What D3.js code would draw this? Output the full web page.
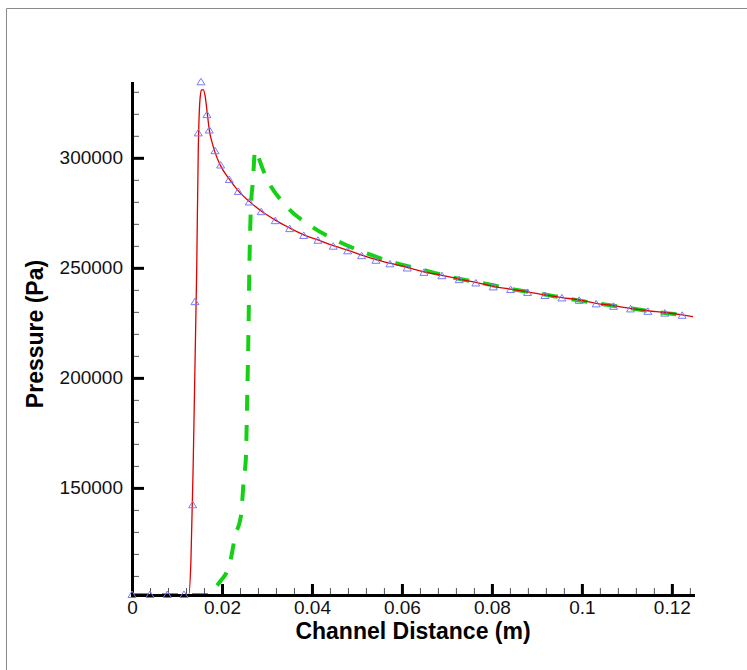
<!DOCTYPE html>
<html>
<head>
<meta charset="utf-8">
<script src="https://cdn.jsdelivr.net/npm/d3@7"></script>
<style>
  html, body { margin: 0; padding: 0; background: #fff; }
  svg { display: block; font-family: "Liberation Sans", Arial, Helvetica, sans-serif; }
</style>
</head>
<body>
<svg id="chart" width="747" height="670"></svg>
<script>
// ---------------- data ----------------
const xTicks = [0, 0.02, 0.04, 0.06, 0.08, 0.1, 0.12];
const xTickLabels = ["0", "0.02", "0.04", "0.06", "0.08", "0.1", "0.12"];
const yTicks = [150000, 200000, 250000, 300000];
const yTickLabels = ["150000", "200000", "250000", "300000"];
const xTitle = "Channel Distance (m)";
const yTitle = "Pressure (Pa)";

// Red solid line
const redX = [0, 0.0126, 0.0131, 0.01362, 0.01438, 0.01473, 0.0151, 0.01544, 0.01584, 0.01622, 0.01678, 0.01718,
  0.01778, 0.01844, 0.01956, 0.02162, 0.02362, 0.02607, 0.02873, 0.03184, 0.03504, 0.03816, 0.04133, 0.04473,
  0.04793, 0.05104, 0.05422, 0.05733, 0.06118, 0.06489, 0.06889, 0.07273, 0.07644, 0.08029, 0.08416, 0.08793,
  0.09178, 0.09556, 0.0994, 0.10318, 0.10704, 0.11082, 0.11467, 0.11844, 0.12229, 0.1247];
const redP = [101325, 101325, 117000, 162600, 249000, 303500, 326200, 330800, 331000, 328500, 319400, 312600,
  307100, 302600, 296900, 290300, 285000, 280200, 275800, 271700, 268100, 265000, 262700, 260100,
  258000, 255800, 253700, 252100, 250200, 248200, 246600, 244900, 243400, 241600, 240300, 239100,
  237700, 236500, 235400, 233900, 232800, 231600, 230500, 229700, 228600, 227800];

// Blue triangle markers
const triX = [0, 0.004, 0.00784, 0.01156, 0.01349, 0.014, 0.01473, 0.01533, 0.01667, 0.01718, 0.01844, 0.01971,
  0.02162, 0.02362, 0.02607, 0.02873, 0.03184, 0.03504, 0.03816, 0.04133, 0.04473, 0.04793, 0.05104, 0.05422,
  0.05733, 0.06118, 0.06489, 0.06889, 0.07273, 0.07644, 0.08029, 0.08416, 0.08793, 0.09178, 0.09556, 0.0994,
  0.10318, 0.10704, 0.11082, 0.11467, 0.11844, 0.12229];
const triP = [101325, 101325, 101325, 101325, 142100, 234400, 311100, 334300, 319400, 312400, 303000, 296500,
  289900, 284500, 279700, 275300, 271200, 267600, 264500, 262300, 259600, 257500, 255300, 253200,
  251600, 249700, 247700, 246200, 244400, 242900, 241100, 239900, 238600, 237200, 236100, 235000,
  233400, 232300, 231100, 230000, 229200, 228200];

// Green dashed line
const greenX = [0, 0.0173, 0.0188, 0.0198, 0.0210, 0.0220, 0.0229, 0.0242, 0.0249, 0.0253, 0.0256, 0.0259,
  0.0261, 0.0264, 0.0269, 0.0273, 0.0276, 0.0280, 0.0297, 0.0340, 0.0403, 0.0465, 0.0528, 0.0591, 0.0654,
  0.0718, 0.0781, 0.0843, 0.0907, 0.0969, 0.1032, 0.1095, 0.1158, 0.1222, 0.1238];
const greenP = [101325, 101325, 105300, 108100, 111500, 118000, 128000, 137000, 155000, 163000, 190000, 222000,
  251000, 276000, 290000, 302600, 303500, 301000, 291700, 278700, 268300, 261400, 256100, 251900, 248700,
  245400, 243000, 240400, 238300, 236000, 233900, 232100, 230100, 228500, 227900];

// ---------------- drawing ----------------
const svg = d3.select("#chart");
const x = d3.scaleLinear().domain([0, 0.1247]).range([132, 693]);
const y = d3.scaleLinear().domain([101325, 334000]).range([595, 83]);

// frame
svg.append("rect").attr("x", 0).attr("y", 0).attr("width", 747).attr("height", 670).attr("fill", "#fff");
svg.append("line").attr("x1", 6.5).attr("y1", 8.5).attr("x2", 747).attr("y2", 8.5)
  .attr("stroke", "#8a8a8a").attr("stroke-width", 1);
svg.append("line").attr("x1", 6.5).attr("y1", 8.5).attr("x2", 6.5).attr("y2", 670)
  .attr("stroke", "#8a8a8a").attr("stroke-width", 1);

const line = d3.line().x(d => x(d[0])).y(d => y(d[1])).curve(d3.curveMonotoneX);

const greenData = greenX.map((v, i) => [v, greenP[i]]);
const redData = redX.map((v, i) => [v, redP[i]]);
const triData = triX.map((v, i) => [v, triP[i]]);

svg.append("path").datum(greenData).attr("d", line)
  .attr("fill", "none").attr("stroke", "#16d016").attr("stroke-width", 4)
  .attr("stroke-dasharray", "16,14");

svg.append("path").datum(redData).attr("d", line)
  .attr("fill", "none").attr("stroke", "#e00000").attr("stroke-width", 1.3);

// minor ticks
const xMinor = d3.range(0, 0.1247, 0.004).filter(v => xTicks.every(t => Math.abs(t - v) > 1e-6));
const yMinor = d3.range(110000, 334001, 10000).filter(v => yTicks.indexOf(v) < 0);

const gxMinor = svg.append("g").attr("transform", "translate(0,595)")
  .call(d3.axisBottom(x).tickValues(xMinor).tickSize(-7).tickFormat(""));
gxMinor.select(".domain").remove();
gxMinor.selectAll(".tick line").attr("stroke", "#555").attr("stroke-width", 1);

const gyMinor = svg.append("g").attr("transform", "translate(132,0)")
  .call(d3.axisLeft(y).tickValues(yMinor).tickSize(-7).tickFormat(""));
gyMinor.select(".domain").remove();
gyMinor.selectAll(".tick line").attr("stroke", "#555").attr("stroke-width", 1);

// major axes
const gx = svg.append("g").attr("transform", "translate(0,595)")
  .call(d3.axisBottom(x).tickValues(xTicks).tickSize(-11).tickSizeOuter(0).tickPadding(6)
    .tickFormat((d, i) => xTickLabels[i]));
gx.select(".domain").attr("stroke", "#000").attr("stroke-width", 3).attr("stroke-linecap", "square");
gx.selectAll(".tick line").attr("stroke", "#000").attr("stroke-width", 3);
gx.selectAll(".tick text").attr("font-size", "19px").attr("fill", "#111")
  .attr("font-family", "Liberation Sans, Arial, sans-serif");

const gy = svg.append("g").attr("transform", "translate(132,0)")
  .call(d3.axisLeft(y).tickValues(yTicks).tickSize(-12).tickSizeOuter(0).tickPadding(9)
    .tickFormat((d, i) => yTickLabels[i]));
gy.select(".domain").attr("stroke", "#000").attr("stroke-width", 3).attr("stroke-linecap", "square");
gy.selectAll(".tick line").attr("stroke", "#000").attr("stroke-width", 3);
gy.selectAll(".tick text").attr("font-size", "19px").attr("fill", "#111")
  .attr("font-family", "Liberation Sans, Arial, sans-serif");

// triangle markers
svg.append("g").selectAll("path").data(triData).join("path")
  .attr("transform", d => `translate(${x(d[0])},${y(d[1])})`)
  .attr("d", "M0,-4L4,2.5L-4,2.5Z")
  .attr("fill", "none").attr("stroke", "#7a7af5").attr("stroke-width", 1);

// titles
svg.append("text").attr("x", 413).attr("y", 639).attr("text-anchor", "middle")
  .attr("font-size", "23px").attr("font-weight", "bold").attr("fill", "#000").text(xTitle);
svg.append("text").attr("transform", "translate(43,334) rotate(-90)").attr("text-anchor", "middle")
  .attr("font-size", "23px").attr("font-weight", "bold").attr("fill", "#000").text(yTitle);
</script>
</body>
</html>
